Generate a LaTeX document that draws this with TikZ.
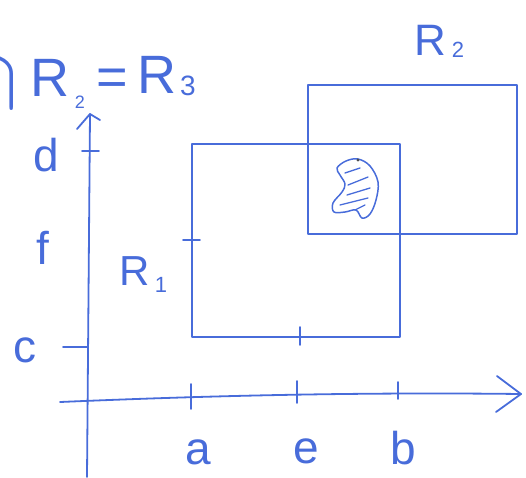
\RequirePackage{fix-cm}
\documentclass[tikz,border=0pt]{standalone}
\usepackage{fontspec}
\setmainfont{Liberation Sans}
\definecolor{ink}{RGB}{72,108,218}
\begin{document}
\begin{tikzpicture}[x=1pt,y=-1pt,
  pen/.style={draw=ink,line width=1.8pt,line cap=round,line join=round},
  lbl/.style={text=ink,inner sep=0pt,font=\fontsize{46}{46}\selectfont},
  big/.style={text=ink,inner sep=0pt,font=\fontsize{54}{54}\selectfont},
  sub/.style={text=ink,inner sep=0pt,font=\fontsize{22}{22}\selectfont}]
\useasboundingbox (0,0) rectangle (526,477);
% axes
\coordinate (yb) at (87,477);
\coordinate (yt) at (90,114);
\coordinate (yl) at (77,129);
\coordinate (yr) at (100,120);
\draw[pen] (yb) -- (yt);
\draw[pen] (yl) -- (yt) -- (yr);
\coordinate (xl) at (60,402);
\coordinate (xr) at (521,394);
\coordinate (xu) at (497,376);
\coordinate (xd) at (496,412);
\draw[pen] (xl) .. controls (200,396) and (350,392) .. (xr);
\draw[pen] (xu) -- (xr) -- (xd);
% x ticks
\coordinate (ta1) at (191,384); \coordinate (ta2) at (191,409);
\coordinate (te1) at (297,381); \coordinate (te2) at (297,403);
\coordinate (tb1) at (398,382); \coordinate (tb2) at (398,399);
\draw[pen] (ta1) -- (ta2);
\draw[pen] (te1) -- (te2);
\draw[pen] (tb1) -- (tb2);
% y ticks
\coordinate (td1) at (82,151); \coordinate (td2) at (99,151);
\coordinate (tc1) at (63,347); \coordinate (tc2) at (88,347);
\draw[pen] (td1) -- (td2);
\draw[pen] (tc1) -- (tc2);
% R1
\coordinate (r1a) at (192,144);
\coordinate (r1b) at (400,337);
\draw[pen] (r1a) rectangle (r1b);
\coordinate (tf1) at (183,240); \coordinate (tf2) at (200,240);
\draw[pen] (tf1) -- (tf2);
\coordinate (tm1) at (300,327); \coordinate (tm2) at (300,345);
\draw[pen] (tm1) -- (tm2);
% R2
\coordinate (r2a) at (308,85);
\coordinate (r2b) at (517,234);
\draw[pen] (r2a) rectangle (r2b);
% blob
\draw[pen,line width=1.5pt] plot[smooth cycle,tension=0.6] coordinates {(337,168) (346,161) (358,159) (370,166) (378,182) (376,200) (370,214) (362,218) (356,210) (345,212) (334,212) (333,203) (342,192) (345,184) (340,175)};
\draw[pen,line width=1.3pt] (345,173) -- (360,168);
\draw[pen,line width=1.3pt] (348,185) -- (368,177);
\draw[pen,line width=1.3pt] (347,195) -- (370,188);
\draw[pen,line width=1.3pt] (340,205) -- (368,198);
\draw[pen,line width=1.3pt] (355,210) -- (365,205);
\fill[black!70] (358,160) circle (1.6pt);
% labels
\node[lbl] (la) at (198,452) {a};
\node[lbl] (le) at (306,451) {e};
\node[lbl] (lb) at (403,448) {b};
\node[lbl] (ld) at (46,155) {d};
\node[lbl] (lf) at (43,248) {f};
\node[lbl] (lc) at (25,350) {c};
\node[lbl,font=\fontsize{42}{42}\selectfont] (lR1) at (135,271) {R};
\node[sub] (lR1s) at (161,285) {1};
\node[lbl,font=\fontsize{44}{44}\selectfont] (lR2) at (430,40) {R};
\node[sub] (lR2s) at (458,50) {2};
% title
\node[text=ink,inner sep=0pt,font=\fontsize{90}{90}\selectfont] (tcap) at (-11,83) {$\cap$};
\node[big] (tR) at (50,78) {R};
\node[sub,font=\fontsize{18}{18}\selectfont] (tRs) at (80,102) {2};
\node[big] (teq) at (112,82) {=};
\node[big] (tR3) at (157,75) {R};
\node[sub,font=\fontsize{28}{28}\selectfont] (tR3s) at (188,86) {3};
\end{tikzpicture}
\end{document}
